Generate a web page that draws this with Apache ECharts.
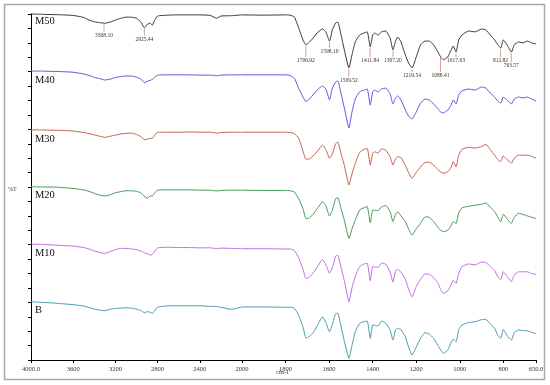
<!DOCTYPE html>
<html>
<head>
<meta charset="utf-8">
<script src="https://cdn.jsdelivr.net/npm/echarts@6/dist/echarts.min.js"></script>
<style>html,body{margin:0;padding:0;background:#fff;}#c{width:550px;height:385px;}</style>
</head>
<body>
<div id="c"></div>
<script>
// Wavenumbers (cm-1), descending
const wavenumbers = [4000,3900,3800,3700,3600,3500,3450,3400,3350,3300,3250,3200,3150,3100,3050,3000,2960,2925,2895,2870,2850,2830,2800,2700,2600,2500,2400,2300,2240,2200,2100,2000,
  1900,1800,1780,1760,1740,1720,1706,1690,1670,1650,1630,1615,1598,1585,1570,1560,1545,1530,1509,1495,1480,1460,1440,1425,1411,1400,1390,1375,1360,1340,1320,1307,1295,1285,1270,1250,1235,1219,1200,1180,1160,1140,1120,1100,1088,1075,1055,1040,1030,1017,1005,990,960,930,900,880,860,840,825,812,800,783,763,750,730,710,690,670,650];

const sampleNames = ['M50','M40','M30','M20','M10','B'];

// %T (offset stacked) for each sample
const tM50 = [120.0,119.9,119.8,119.7,119.5,118.8,117.9,117.3,117.0,116.8,117.2,117.9,118.5,118.9,118.9,118.5,117.3,115.2,116.5,116.8,116.1,117.7,119.3,119.6,119.7,119.7,119.7,119.5,118.5,119.3,119.4,119.7,
  119.6,119.7,119.6,119.0,115.2,111.0,109.3,110.3,112.0,113.8,114.8,113.8,110.6,114.5,116.9,117.2,112.7,107.5,101.3,105.8,110.3,112.7,113.4,113.8,108.6,112.7,113.4,112.7,113.8,114.1,111.7,107.5,110.6,112.0,110.3,105.8,103.0,101.3,105.1,109.3,110.6,110.6,109.3,106.8,105.1,104.1,105.1,107.5,108.9,106.8,111.0,112.7,114.1,113.8,114.8,114.5,112.7,111.0,109.3,108.2,111.0,109.3,106.8,109.3,110.3,110.0,110.6,110.0,109.6];
const tM40 = [100.2,100.2,100.1,100.0,99.8,99.2,98.7,98.0,97.6,97.1,97.4,98.0,98.3,98.5,98.5,98.1,97.5,96.2,96.7,97.0,97.3,98.0,98.8,98.9,98.9,98.9,98.8,98.8,98.6,98.8,98.9,98.9,
  98.9,98.9,98.7,97.8,94.3,91.2,89.6,90.5,92.3,94.0,95.0,94.0,90.2,94.3,96.4,96.8,92.3,87.4,80.5,86.0,90.5,93.0,93.6,94.0,88.4,93.0,93.6,93.0,94.0,94.3,92.3,88.8,90.9,91.6,90.2,86.7,84.6,83.6,86.0,89.1,90.5,90.2,88.8,87.1,86.0,85.7,86.7,88.4,90.2,88.8,91.9,93.3,94.0,93.6,94.7,94.3,92.6,91.2,89.8,89.1,91.2,90.2,88.8,90.5,91.2,90.9,91.2,90.5,89.8];
const tM30 = [79.8,79.8,79.7,79.6,79.4,78.9,78.5,78.1,77.6,77.2,77.6,78.0,78.4,78.6,78.7,78.2,77.5,76.4,76.6,76.9,76.9,77.8,79.0,79.0,79.0,79.1,79.0,79.0,78.7,78.9,79.0,79.0,
  79.0,79.0,78.9,78.5,77.0,72.5,69.6,69.8,71.0,72.8,74.5,73.0,70.0,71.5,75.0,75.6,71.5,67.5,60.7,64.5,68.2,72.0,73.0,73.4,67.6,71.7,72.2,71.8,73.2,72.8,70.5,67.6,69.8,70.5,70.2,67.5,65.0,63.0,65.0,67.0,68.5,68.6,67.6,66.0,65.2,64.8,65.3,66.8,68.8,67.0,71.0,73.0,73.8,73.5,74.0,74.8,73.0,71.0,69.5,68.8,70.8,69.5,68.3,70.0,71.1,71.0,71.1,70.6,70.0];
const tM20 = [60.1,60.0,60.0,59.8,59.5,59.0,58.5,57.8,57.2,56.9,57.3,58.0,58.4,58.7,58.7,58.5,58.0,56.8,56.1,56.9,56.9,57.8,58.9,59.0,59.0,59.0,58.9,58.9,58.6,58.8,58.9,58.9,
  58.8,58.8,58.7,58.3,56.0,52.5,49.0,49.3,50.9,53.0,54.9,53.5,49.9,52.0,56.0,56.3,52.5,48.5,42.2,45.5,48.5,52.0,52.8,53.2,47.6,52.0,51.9,51.8,53.0,53.6,51.5,48.0,50.5,51.4,50.0,48.0,45.5,43.3,45.5,47.4,49.6,49.5,48.0,46.0,45.0,44.5,45.0,46.5,48.0,47.3,51.0,52.8,53.3,53.7,54.0,54.5,53.0,51.5,49.5,48.0,50.6,49.0,47.4,49.5,50.9,50.5,50.0,49.5,49.1];
const tM10 = [40.2,40.1,39.9,39.7,39.5,39.0,38.5,37.8,37.3,37.0,37.6,38.3,38.7,38.7,38.5,38.3,37.8,37.2,36.8,36.4,36.6,37.5,38.9,39.1,39.0,39.0,38.9,38.9,38.6,38.8,38.7,38.6,
  38.6,38.5,38.5,38.0,35.5,31.5,28.2,28.8,30.5,32.8,34.8,33.0,30.1,32.0,36.0,36.3,32.0,27.5,20.2,25.0,28.9,32.4,33.3,33.5,27.5,32.4,32.3,32.1,33.6,33.2,30.5,27.0,31.0,31.4,30.5,28.0,24.5,21.9,25.5,28.0,29.8,29.8,28.5,26.6,24.5,23.1,24.0,26.0,27.7,26.6,30.0,32.4,33.3,33.0,34.0,33.8,32.4,31.0,28.8,27.9,30.6,29.0,27.2,29.5,30.6,30.6,30.6,30.0,29.7];
const tB = [20.2,20.0,19.8,19.5,19.2,18.7,18.2,17.7,17.3,17.1,17.6,17.9,18.0,18.1,18.0,17.6,17.2,16.4,16.8,16.5,16.2,17.0,18.3,18.8,18.8,18.8,18.8,18.6,18.5,18.3,17.6,18.4,
  18.4,18.3,18.3,18.0,15.5,11.5,7.6,8.2,9.8,12.5,15.0,13.0,9.8,12.5,16.0,16.2,11.5,6.5,0.6,5.0,9.8,12.7,13.3,13.5,7.5,12.1,12.0,11.8,13.5,12.8,10.5,6.9,10.5,11.0,10.5,8.0,4.5,1.7,4.5,7.5,9.5,9.0,7.5,5.0,3.5,2.3,3.5,6.0,7.2,6.3,10.5,12.1,13.0,13.3,14.0,14.1,12.5,11.0,8.5,7.5,10.6,8.5,6.9,9.5,10.4,10.2,10.1,9.6,9.2];

// Peak annotations on M50
const peakWn = [3308.10,2925.44,1706.92,1598.10,1509.52,1411.84,1307.20,1219.54,1088.41,1017.63,812.82,763.57];
const peakT = [116.8,115.2,109.3,110.6,101.3,108.6,107.5,101.3,105.1,106.8,108.2,106.8];
const peakLabelT = [113.8,112.4,105.1,108.2,98.2,105.1,105.1,99.9,99.9,105.1,105.1,103.4];

// Axis tick labels
const leftTicks = [4000,3600,3200,2800,2400,2000];
const rightTicks = [1800,1600,1400,1200,1000,800,650];

const allSeries = [tM50,tM40,tM30,tM20,tM10,tB];
const colors = ['#3a3a3a','#5a5ae0','#c8604c','#3f9a55','#c46de6','#4a9bb0'];
const labelDy = [7,9,9,9,9,8];

const chart = echarts.init(document.getElementById('c'), null, {renderer:'canvas'});
const serif = 'Liberation Serif, Times New Roman, serif';

function pairs(vals, left) {
  const out = [];
  wavenumbers.forEach((w,i)=>{ if (left ? w>=2000 : w<=2000) out.push([w, vals[i]]); });
  return out;
}

const series = [];
allSeries.forEach((vals,k)=>{
  [0,1].forEach(g=>{
    series.push({
      type:'line', xAxisIndex:g, yAxisIndex:g, data:pairs(vals, g===0),
      showSymbol:false, symbol:'none', smooth:0.15, clip:false,
      lineStyle:{color:colors[k], width:1}, silent:true, animation:false
    });
  });
});

function peakData(left){
  const d=[];
  peakWn.forEach((w,i)=>{ if ((w>2000)===left) d.push([w, peakT[i], peakLabelT[i]]); });
  return d;
}
function renderPeak(params, api){
  const p1 = api.coord([api.value(0), api.value(1)]);
  const p2 = api.coord([api.value(0), api.value(2)]);
  return {type:'group', children:[
    {type:'line', shape:{x1:p1[0],y1:p1[1]+1,x2:p2[0],y2:p2[1]}, style:{stroke:'#d9a48c', lineWidth:1}},
    {type:'text', style:{text:api.value(0).toFixed(2), x:p2[0], y:p2[1]+1, align:'center', verticalAlign:'top', fontSize:5.5, fontFamily:serif, fill:'#333'}}
  ]};
}
[0,1].forEach(g=>{
  series.push({type:'custom', xAxisIndex:g, yAxisIndex:g, data:peakData(g===0), renderItem:renderPeak, clip:false, silent:true, animation:false, z:5});
});

const yAxisBase = {type:'value', min:0, max:120, interval:5};

chart.setOption({
  backgroundColor:'#fff',
  animation:false,
  grid:[
    {left:31, top:14, width:211, height:346},
    {left:242, top:14, width:294, height:346}
  ],
  xAxis:[
    {type:'value', gridIndex:0, min:2000, max:4000, interval:400, inverse:true,
     axisLine:{lineStyle:{color:'#000', width:1}}, axisTick:{length:3, lineStyle:{color:'#000'}},
     splitLine:{show:false},
     axisLabel:{fontSize:6.5, fontFamily:serif, color:'#333', margin:6, showMinLabel:true, showMaxLabel:true,
       formatter:v=> v===4000 ? '4000.0' : String(v)}},
    {type:'value', gridIndex:1, min:650, max:2000, inverse:true,
     axisLine:{lineStyle:{color:'#000', width:1}},
     axisTick:{length:3, lineStyle:{color:'#000'}, customValues:rightTicks},
     splitLine:{show:false},
     axisLabel:{fontSize:6.5, fontFamily:serif, color:'#333', margin:6, customValues:rightTicks,
       formatter:v=> v===650 ? '650.0' : String(v)}}
  ],
  yAxis:[
    Object.assign({gridIndex:0, axisLine:{show:true, lineStyle:{color:'#000', width:1}}, axisTick:{show:true, length:3, lineStyle:{color:'#000'}},
      axisLabel:{show:false}, splitLine:{show:false}}, yAxisBase),
    Object.assign({gridIndex:1, show:false, splitLine:{show:false}}, yAxisBase)
  ],
  series: series
});

const graphics = [
  {type:'rect', shape:{x:4.5, y:4.5, width:540, height:375}, style:{fill:'none', stroke:'#a8a8a8', lineWidth:1.5}, silent:true},
  {type:'text', x:8, y:186, style:{text:'%T', fontSize:6, fontFamily:serif, fill:'#333'}},
  {type:'text', x:276, y:369, style:{text:'cm-1', fontSize:6.5, fontFamily:serif, fill:'#333'}}
];
sampleNames.forEach((n,k)=>{
  const p = chart.convertToPixel({gridIndex:0}, [wavenumbers[0], allSeries[k][0]]);
  graphics.push({type:'text', x:p[0]+4, y:p[1]+labelDy[k], style:{text:n, fontSize:10.5, fontFamily:serif, fill:'#111', verticalAlign:'middle'}});
});
chart.setOption({graphic:graphics});
</script>
</body>
</html>
